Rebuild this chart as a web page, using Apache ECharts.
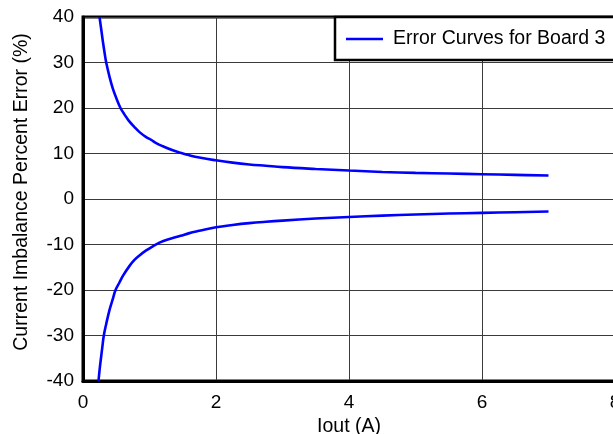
<!DOCTYPE html>
<html>
<head>
<meta charset="utf-8">
<script src="https://cdn.jsdelivr.net/npm/echarts@6/dist/echarts.min.js"></script>
<style>
  html, body { margin: 0; padding: 0; background: #fff; }
  #chart { width: 613px; height: 434px; }
</style>
</head>
<body>
<div id="chart"></div>
<script>
// Percent error vs output current, upper and lower bounds
const seriesName = 'Error Curves for Board 3';

const upperX = [0.248, 0.275, 0.30, 0.325, 0.349, 0.40, 0.45, 0.50, 0.564, 0.61, 0.65, 0.70, 0.774, 0.85, 0.95, 1.025, 1.10, 1.20, 1.35, 1.466, 1.60, 1.75, 2.0, 2.25, 2.5, 2.75, 3.0, 3.5, 4.0, 4.5, 5.0, 5.5, 6.0, 6.5, 7.0];
const upperY = [40, 37.2, 34.5, 32.1, 30, 26.8, 24.2, 22.2, 20, 18.9, 18.0, 17.0, 15.8, 14.7, 13.6, 13.0, 12.3, 11.6, 10.7, 10.15, 9.6, 9.1, 8.5, 8.0, 7.6, 7.3, 7.0, 6.6, 6.25, 5.95, 5.75, 5.6, 5.45, 5.3, 5.15];

const lowerX = [0.233, 0.25, 0.27, 0.29, 0.313, 0.35, 0.40, 0.45, 0.489, 0.55, 0.60, 0.70, 0.774, 0.85, 0.95, 1.05, 1.15, 1.275, 1.466, 1.60, 1.75, 2.0, 2.25, 2.5, 2.75, 3.0, 3.5, 4.0, 4.5, 5.0, 5.5, 6.0, 6.5, 7.0];
const lowerY = [-40, -37.5, -35, -32.6, -30, -27.4, -24.3, -21.9, -20, -18.3, -16.9, -14.7, -13.4, -12.4, -11.3, -10.4, -9.6, -8.9, -8.1, -7.5, -7.0, -6.2, -5.7, -5.3, -5.0, -4.75, -4.3, -3.95, -3.65, -3.4, -3.2, -3.05, -2.9, -2.75];

const xTicks = [0, 2, 4, 6, 8];
const yTicks = [-40, -30, -20, -10, 0, 10, 20, 30, 40];

const pair = (xs, ys) => xs.map((x, i) => [x, ys[i]]);

const FONT = 'Liberation Sans, Arial, sans-serif';
const gridColor = '#3a3a3a';

const chart = echarts.init(document.getElementById('chart'), null, { renderer: 'canvas' });

const lineCommon = {
  type: 'line',
  name: seriesName,
  smooth: 0.4,
  symbol: 'none',
  showSymbol: false,
  clip: true,
  color: '#0000ff',
  lineStyle: { color: '#0000ff', width: 2.6 },
  itemStyle: { color: '#0000ff' },
  animation: false
};

chart.setOption({
  animation: false,
  backgroundColor: '#ffffff',
  grid: {
    left: 83,
    top: 17,
    width: 532,
    height: 364,
    show: true,
    borderColor: '#000',
    borderWidth: 3,
    backgroundColor: 'transparent',
    containLabel: false,
    outerBoundsMode: 'none'
  },
  legend: {
    show: true,
    data: [{ name: seriesName, icon: 'path://M0,0 L37,0 L37,2.6 L0,2.6 Z' }],
    left: 335,
    top: 17,
    padding: [12, 20, 11, 11],
    itemWidth: 37,
    itemHeight: 3,
    backgroundColor: '#fff',
    borderColor: '#000',
    borderWidth: 2.5,
    borderRadius: 0,
    itemStyle: { color: '#0000ff' },
    textStyle: {
      fontFamily: FONT,
      fontSize: 19.5,
      color: '#000',
      padding: [0, 0, 0, 5]
    }
  },
  xAxis: {
    type: 'value',
    min: xTicks[0],
    max: xTicks[xTicks.length - 1],
    interval: 2,
    name: 'Iout (A)',
    nameLocation: 'middle',
    nameGap: 36,
    nameTextStyle: { fontFamily: FONT, fontSize: 19.5, color: '#000' },
    axisLine: { show: true, onZero: false, lineStyle: { color: '#000', width: 3 } },
    axisTick: { show: false },
    axisLabel: {
      fontFamily: FONT, fontSize: 19, color: '#000', margin: 12,
      formatter: v => String(v)
    },
    splitLine: { show: true, lineStyle: { color: gridColor, width: 1 } }
  },
  yAxis: {
    type: 'value',
    min: yTicks[0],
    max: yTicks[yTicks.length - 1],
    interval: 10,
    name: 'Current Imbalance Percent Error (%)',
    nameLocation: 'middle',
    nameGap: 51,
    nameTextStyle: { fontFamily: FONT, fontSize: 19.5, color: '#000', padding: [0, 0, 0, 14] },
    axisLine: { show: true, onZero: false, lineStyle: { color: '#000', width: 3 } },
    axisTick: { show: false },
    axisLabel: {
      fontFamily: FONT, fontSize: 19, color: '#000', margin: 9,
      formatter: v => String(v)
    },
    splitLine: { show: true, lineStyle: { color: gridColor, width: 1 } }
  },
  series: [
    Object.assign({}, lineCommon, { data: pair(upperX, upperY) }),
    Object.assign({}, lineCommon, { data: pair(lowerX, lowerY) })
  ]
});
</script>
</body>
</html>
